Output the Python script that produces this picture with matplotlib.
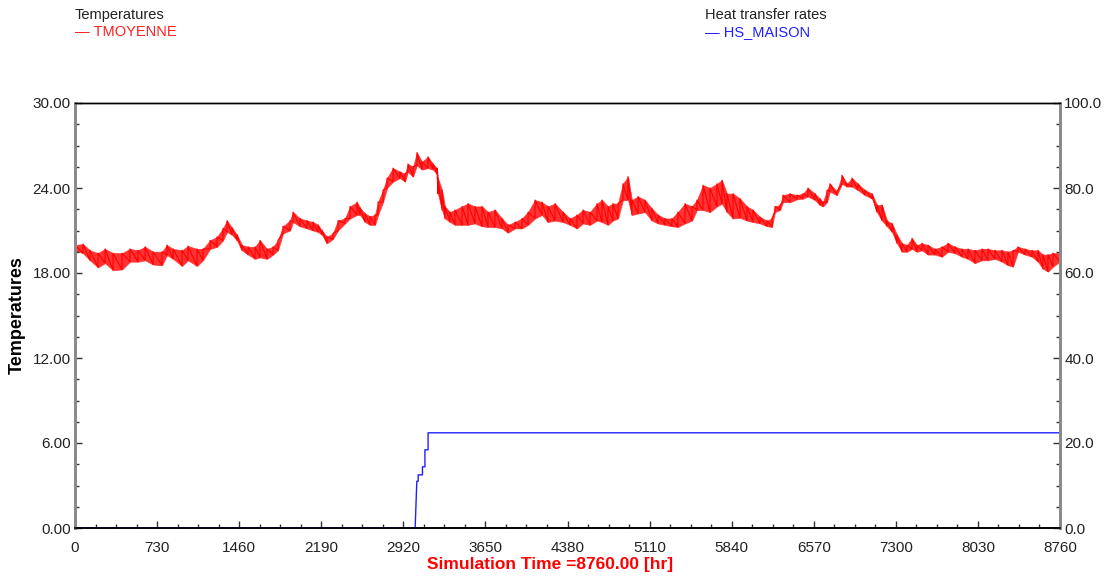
import numpy as np
import matplotlib
matplotlib.use('Agg')
import matplotlib.pyplot as plt
from matplotlib.ticker import MultipleLocator, FormatStrFormatter

plt.rcParams['font.family'] = ['Liberation Sans', 'DejaVu Sans']

# TMOYENNE (heure, enveloppe haute, enveloppe basse) en degC
heures = [0, 71, 133, 205, 267, 338, 418, 489, 560, 623, 694, 774, 818, 872, 952,
          1005, 1085, 1138, 1201, 1263, 1316, 1352, 1396, 1441, 1485, 1539, 1601, 1645,
          1708, 1761, 1805, 1850, 1912, 1939, 2001, 2063, 2117, 2161, 2197, 2241, 2294,
          2339, 2401, 2446, 2508, 2535, 2579, 2623, 2668, 2695, 2739, 2775, 2828, 2890,
          2935, 2961, 3006, 3041, 3086, 3139, 3184, 3219, 3228, 3264, 3290, 3335, 3379,
          3442, 3495, 3557, 3620, 3673, 3735, 3797, 3851, 3913, 3975, 4029, 4091, 4153,
          4206, 4269, 4340, 4402, 4464, 4518, 4580, 4642, 4687, 4740, 4784, 4829, 4873,
          4918, 4953, 5007, 5069, 5131, 5185, 5247, 5309, 5362, 5425, 5487, 5531, 5585,
          5647, 5709, 5754, 5798, 5852, 5914, 5976, 6029, 6092, 6154, 6198, 6225, 6270,
          6296, 6358, 6421, 6474, 6518, 6581, 6625, 6652, 6688, 6714, 6776, 6821, 6865,
          6910, 6963, 7025, 7088, 7132, 7177, 7221, 7266, 7310, 7355, 7399, 7444, 7488,
          7532, 7586, 7648, 7710, 7764, 7826, 7888, 7942, 8004, 8066, 8119, 8182, 8244,
          8297, 8342, 8386, 8449, 8511, 8564, 8608, 8653, 8697, 8760]
t_haut = [19.97, 20.04, 19.6, 19.4, 19.7, 19.4, 19.4, 19.7, 19.6, 19.85, 19.5, 19.5, 19.97,
          19.7, 19.6, 19.9, 19.7, 19.7, 20.3, 20.55, 21.15, 21.7, 21.2, 20.7, 19.97, 19.85,
          19.85, 20.3, 19.7, 19.85, 20.3, 21.3, 21.7, 22.3, 21.85, 21.7, 21.6, 21.4, 21.0,
          20.55, 20.8, 21.7, 21.85, 22.7, 23.0, 22.6, 22.2, 22.0, 22.1, 23.0, 23.85, 24.7,
          25.4, 25.15, 25.0, 25.7, 25.5, 26.5, 25.85, 26.2, 25.7, 25.4, 24.7, 23.85, 22.7,
          22.3, 22.45, 22.7, 22.9, 22.7, 22.7, 22.3, 22.45, 21.85, 21.4, 21.6, 21.85, 22.3,
          23.15, 23.0, 22.7, 22.9, 22.3, 21.85, 22.1, 22.45, 22.3, 22.9, 23.15, 22.7, 22.9,
          22.9, 24.3, 24.8, 23.15, 23.4, 23.15, 22.55, 22.1, 21.85, 21.85, 22.3, 22.9, 22.7,
          23.15, 24.2, 24.0, 24.3, 24.55, 23.6, 23.6, 23.25, 22.7, 22.45, 21.95, 21.7, 21.85,
          22.7, 22.8, 23.5, 23.6, 23.5, 23.6, 24.0, 23.6, 23.25, 23.0, 23.85, 24.3, 23.75,
          24.9, 24.3, 24.7, 24.3, 23.85, 23.6, 22.8, 22.8, 21.7, 21.5, 20.7, 20.1, 19.97,
          20.45, 19.97, 20.1, 19.97, 19.7, 19.85, 20.1, 19.85, 19.7, 19.7, 19.6, 19.7, 19.7,
          19.6, 19.6, 19.5, 19.6, 19.85, 19.7, 19.6, 19.6, 19.3, 19.3, 19.4, 19.4]
t_bas = [19.6, 19.4, 18.9, 18.4, 18.7, 18.2, 18.25, 18.8, 18.8, 18.9, 18.6, 18.55, 19.27,
         19.0, 18.5, 18.9, 18.5, 18.9, 19.7, 19.85, 20.3, 20.9, 20.7, 20.3, 19.6, 19.3,
         19.0, 19.1, 19.0, 19.3, 19.6, 20.8, 21.0, 21.6, 21.3, 21.15, 21.0, 20.9, 20.7,
         20.1, 20.4, 21.0, 21.5, 21.85, 22.1, 22.1, 21.6, 21.4, 21.4, 22.1, 23.0, 24.0,
         24.45, 24.7, 24.45, 25.15, 24.8, 25.6, 25.3, 25.4, 25.3, 25.0, 23.6, 22.45, 21.85,
         21.6, 21.4, 21.4, 21.4, 21.5, 21.3, 21.25, 21.25, 21.15, 20.85, 21.15, 21.15, 21.4,
         21.85, 22.1, 21.6, 21.7, 21.6, 21.4, 21.15, 21.5, 21.4, 21.7, 21.6, 21.4, 21.7,
         21.85, 23.15, 23.15, 22.1, 22.2, 22.3, 21.7, 21.5, 21.4, 21.3, 21.25, 21.5, 21.7,
         22.45, 22.45, 22.3, 22.7, 22.9, 22.3, 21.85, 21.9, 21.7, 21.6, 21.5, 21.3, 21.25,
         22.3, 22.45, 23.0, 23.0, 23.2, 23.25, 23.4, 23.15, 22.8, 22.7, 23.0, 23.75, 23.5,
         24.3, 24.1, 24.1, 23.85, 23.5, 23.25, 22.3, 21.7, 21.3, 20.9, 20.1, 19.5, 19.5,
         19.7, 19.5, 19.6, 19.3, 19.3, 19.15, 19.5, 19.4, 19.15, 19.0, 18.7, 18.9, 18.9,
         19.0, 18.8, 18.55, 18.45, 19.5, 19.3, 19.15, 18.8, 18.3, 18.1, 18.45, 18.8]

# HS_MAISON (axe de droite)
heures_hs = [0, 3025, 3040, 3052, 3052, 3090, 3090, 3112, 3112, 3140, 3140, 8760]
hs_maison = [0, 0, 11.0, 11.0, 12.5, 12.5, 14.4, 14.4, 18.4, 18.4, 22.4, 22.4]

# courbe en zigzag : bas puis haut a chaque lecture
x_t = np.repeat(heures, 2)
y_t = np.column_stack([t_bas, t_haut]).ravel()

fig = plt.figure(figsize=(11.07, 5.77), dpi=100)
ax = fig.add_axes([75 / 1107, 1 - 528 / 577, 985 / 1107, 425 / 577])
ax2 = ax.twinx()

ax.fill_between(heures, t_bas, t_haut, color='#ff0000', alpha=0.8, linewidth=0.6,
                edgecolor='#ff2a2a')
ax.plot(x_t, y_t, color='#ff0000', linewidth=0.8)
ax2.plot(heures_hs, hs_maison, color='#2020ff', linewidth=1.0)

ax.set_xlim(0, 8760)
ax.set_ylim(0, 30)
ax2.set_ylim(0, 100)

ax.xaxis.set_major_locator(MultipleLocator(730))
ax.xaxis.set_minor_locator(MultipleLocator(182.5))
ax.yaxis.set_major_locator(MultipleLocator(6))
ax.yaxis.set_minor_locator(MultipleLocator(1.5))
ax.yaxis.set_major_formatter(FormatStrFormatter('%.2f'))
ax2.yaxis.set_major_locator(MultipleLocator(20))
ax2.yaxis.set_minor_locator(MultipleLocator(5))
ax2.yaxis.set_major_formatter(FormatStrFormatter('%.1f'))

ax.tick_params(axis='both', which='major', direction='in', length=5, width=1,
               labelsize=11, colors='#333333', labelcolor='#222222')
ax.tick_params(axis='both', which='minor', direction='in', length=3, width=1, colors='#333333')
ax.tick_params(axis='x', pad=9)
ax.tick_params(axis='y', pad=3)
ax2.tick_params(axis='y', which='major', direction='in', length=5, width=1,
                labelsize=11, colors='#333333', labelcolor='#222222', pad=3)
ax2.tick_params(axis='y', which='minor', direction='in', length=3, width=1, colors='#333333')

for a in (ax, ax2):
    a.spines['left'].set_color('#8a8a8a')
    a.spines['left'].set_linewidth(2)
    a.spines['right'].set_color('#8a8a8a')
    a.spines['right'].set_linewidth(2)
    a.spines['top'].set_color('#000000')
    a.spines['top'].set_linewidth(1)
    a.spines['bottom'].set_color('#000000')
    a.spines['bottom'].set_linewidth(1.2)

ax.set_ylabel('Temperatures', fontsize=13, fontweight='bold', labelpad=5)
fig.text(550 / 1107, 1 - 564 / 577, 'Simulation Time =8760.00 [hr]', color='#ff0000',
         fontsize=12.5, fontweight='bold', ha='center', va='center')

# legendes en haut
fig.text(75 / 1107, 1 - 15 / 577, 'Temperatures', color='#222222', fontsize=10.5, va='center')
fig.text(75 / 1107, 1 - 32 / 577, '\u2014 TMOYENNE', color='#ff2020', fontsize=10.5, va='center')
fig.text(705 / 1107, 1 - 15 / 577, 'Heat transfer rates', color='#222222', fontsize=10.5, va='center')
fig.text(705 / 1107, 1 - 32 / 577, '\u2014 HS_MAISON', color='#2020ff', fontsize=10.5, va='center')

fig.savefig('out.png', dpi=100)
